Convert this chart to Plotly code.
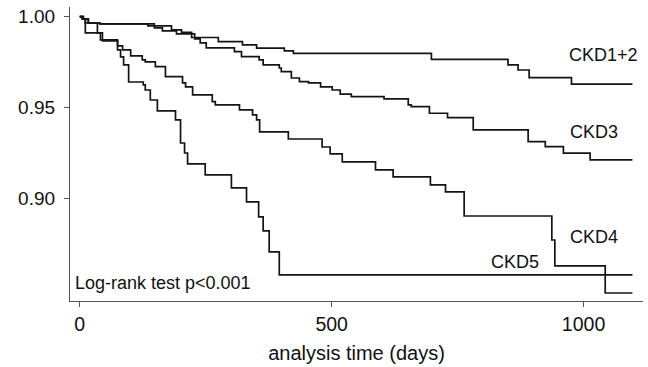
import plotly.graph_objects as go

# Kaplan-Meier step data (days, survival)
ckd12_t = [0, 5, 17, 40, 135, 182, 202, 222, 275, 323, 351, 406, 424, 698, 850, 870, 892, 976, 1097]
ckd12_s = [1.0, 0.9987, 0.9965, 0.9960, 0.9949, 0.9927, 0.9913, 0.9885, 0.9862, 0.9844, 0.9826, 0.9811, 0.9798, 0.9765, 0.9734, 0.9706, 0.9664, 0.9628, 0.9628]

ckd3_t = [0, 5, 17, 40, 148, 164, 192, 228, 239, 251, 307, 321, 356, 364, 396, 400, 420, 436, 454, 478, 501, 517, 539, 604, 652, 658, 694, 730, 781, 890, 924, 960, 1013, 1097]
ckd3_s = [1.0, 0.9987, 0.9965, 0.9960, 0.9938, 0.9921, 0.9905, 0.9877, 0.9855, 0.9828, 0.9807, 0.9780, 0.9762, 0.9734, 0.9717, 0.9697, 0.9662, 0.9642, 0.9635, 0.9613, 0.9596, 0.9573, 0.9559, 0.9547, 0.9514, 0.9504, 0.9468, 0.9444, 0.9376, 0.9312, 0.9284, 0.9248, 0.9211, 0.9211]

ckd4_t = [0, 7, 11, 35, 45, 75, 85, 101, 124, 130, 150, 170, 204, 210, 224, 263, 269, 317, 343, 351, 357, 414, 481, 497, 521, 587, 622, 696, 726, 763, 937, 943, 1043, 1097]
ckd4_s = [1.0, 0.9987, 0.9965, 0.9910, 0.9866, 0.9839, 0.9817, 0.9784, 0.9762, 0.9751, 0.9725, 0.9670, 0.9635, 0.9613, 0.9569, 0.9532, 0.9514, 0.9486, 0.9459, 0.9431, 0.9365, 0.9326, 0.9282, 0.9244, 0.9200, 0.9156, 0.9117, 0.9073, 0.9035, 0.8902, 0.8770, 0.8627, 0.8478, 0.8478]

ckd5_t = [0, 7, 11, 41, 75, 81, 87, 97, 126, 130, 140, 154, 190, 200, 208, 214, 249, 301, 331, 355, 364, 376, 396, 1097]
ckd5_s = [1.0, 0.9987, 0.9910, 0.9872, 0.9817, 0.9778, 0.9734, 0.9640, 0.9624, 0.9596, 0.9541, 0.9481, 0.9431, 0.9304, 0.9249, 0.9189, 0.9128, 0.9057, 0.8980, 0.8897, 0.8820, 0.8704, 0.8578, 0.8578]

series = [("CKD1+2", ckd12_t, ckd12_s), ("CKD3", ckd3_t, ckd3_s),
          ("CKD4", ckd4_t, ckd4_s), ("CKD5", ckd5_t, ckd5_s)]

x_ticks = [0, 500, 1000]
y_ticks = [0.90, 0.95, 1.00]
y_tick_labels = ["0.90", "0.95", "1.00"]

labels = [("CKD1+2", 1040, 0.9788), ("CKD3", 1020, 0.9362), ("CKD4", 1020, 0.8787), ("CKD5", 864, 0.8648)]

FONT = "Arial, Liberation Sans, Helvetica, sans-serif"
fig = go.Figure()
for name, t, s in series:
    fig.add_trace(go.Scatter(x=t, y=s, mode="lines", name=name,
                             line=dict(color="#141414", width=1.7, shape="hv"),
                             showlegend=False))

for text, x, y in labels:
    fig.add_annotation(x=x, y=y, text=text, showarrow=False, xanchor="center", yanchor="middle",
                       font=dict(size=18, color="#111", family=FONT))

fig.add_annotation(x=0.005, y=0.06, xref="paper", yref="paper", text="Log-rank test p<0.001",
                   showarrow=False, xanchor="left", yanchor="middle",
                   font=dict(size=18, color="#111", family=FONT))

fig.update_layout(
    width=648, height=367,
    margin=dict(l=70, r=5, t=7, b=66, autoexpand=False),
    paper_bgcolor="white", plot_bgcolor="white",
    font=dict(family=FONT, size=20, color="#111"),
    xaxis=dict(range=[-19.4, 1118], tickvals=x_ticks, showgrid=False, zeroline=False,
               showline=True, linecolor="#555", linewidth=1.2, ticks="outside",
               ticklen=5, tickcolor="#555", tickfont=dict(size=19.5), automargin=False,
               ticklabelstandoff=0,
               title=dict(text="analysis time (days)", font=dict(size=20), standoff=12)),
    yaxis=dict(range=[0.8434, 1.0053], tickvals=y_ticks, ticktext=y_tick_labels,
               showgrid=False, zeroline=False, showline=True, linecolor="#555",
               linewidth=1.2, ticks="outside", ticklen=5, tickcolor="#555",
               tickfont=dict(size=19), automargin=False, ticklabelstandoff=5),
)

fig.write_html("out.html", config={"displayModeBar": False},
               post_script="document.body.style.margin='0';document.body.style.overflow='hidden';")
